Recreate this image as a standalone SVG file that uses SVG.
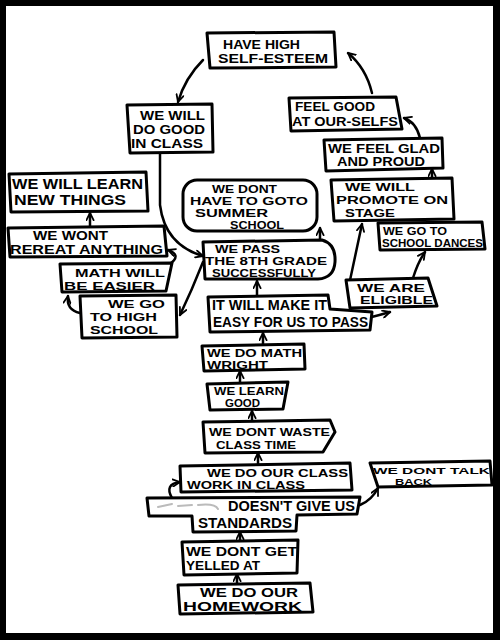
<svg xmlns="http://www.w3.org/2000/svg" width="500" height="640" viewBox="0 0 500 640">
<style>
.b{fill:#fff;stroke:#000;stroke-width:3;stroke-linejoin:round}
.t{font-family:"Liberation Sans",Arial,sans-serif;font-weight:bold;fill:#000}
.f14{font-size:14px}.f13{font-size:13px}.f12{font-size:12px}.f11{font-size:11.5px}.f10{font-size:10.5px}.f9{font-size:9.5px}
.c{fill:none;stroke:#000;stroke-width:2.5;stroke-linecap:round;marker-end:url(#ah)}
</style>
<defs>
<marker id="ah" viewBox="0 0 10 10" refX="9" refY="5" markerWidth="9" markerHeight="9" markerUnits="userSpaceOnUse" orient="auto">
<path d="M1,1 L9,5 L1,9" fill="none" stroke="#000" stroke-width="2" stroke-linecap="round" stroke-linejoin="round"/>
</marker>
</defs>
<rect x="0" y="0" width="500" height="640" fill="#000"/>
<rect x="6" y="6" width="487" height="627" fill="#fff"/>

<g id="connectors">
<path class="c" d="M203,60 Q185,78 178,102"/>
<path class="c" d="M372,93 Q366,68 348,53"/>
<path class="c" d="M420,138 Q416,122 404,118"/>
<path class="c" d="M432,180 L432,169"/>
<path class="c" d="M349,285 L362,224"/>
<path class="c" d="M413,278 Q418,262 425,252"/>
<path class="c" d="M345,323 Q370,318 390,312"/>
<path class="c" d="M257,296 L257,281"/>
<path class="c" d="M320,242 L320,228"/>
<path class="c" d="M203,262 Q192,290 180,315"/>
<path class="c" d="M160,154 L160,205 Q165,245 203,256"/>
<path class="c" d="M80,313 Q66,310 68,296"/>
<path class="c" d="M170,264 Q182,255 168,250"/>
<path class="c" d="M90,226 L90,213"/>
<path class="c" d="M263,344 L263,333"/>
<path class="c" d="M240,382 L240,371"/>
<path class="c" d="M252,421 L252,411"/>
<path class="c" d="M258,464 L258,453"/>
<path class="c" d="M172,498 Q164,484 180,482"/>
<path class="c" d="M360,505 Q372,500 378,488"/>
<path class="c" d="M240,541 L240,532"/>
<path class="c" d="M237,584 L237,574"/>
</g>

<g id="n-selfesteem">
<path class="b" d="M207,33 L334,32 L336,67 L210,68 Z"/>
<text class="t f12" x="223" y="49" textLength="77" lengthAdjust="spacingAndGlyphs">HAVE HIGH</text>
<text class="t f12" x="218" y="63" textLength="110" lengthAdjust="spacingAndGlyphs">SELF-ESTEEM</text>
</g>
<g id="n-dogood">
<path class="b" d="M127,105 L212,104 L213,152 L130,153 Z"/>
<text class="t f12" x="140" y="120" textLength="65" lengthAdjust="spacingAndGlyphs">WE WILL</text>
<text class="t f12" x="133" y="134" textLength="72" lengthAdjust="spacingAndGlyphs">DO GOOD</text>
<text class="t f12" x="131" y="148" textLength="72" lengthAdjust="spacingAndGlyphs">IN CLASS</text>
</g>
<g id="n-feelgood">
<path class="b" d="M289,98 L396,97 L402,129 L291,131 Z"/>
<text class="t f13" x="295" y="111" textLength="80" lengthAdjust="spacingAndGlyphs">FEEL GOOD</text>
<text class="t f13" x="292" y="126" textLength="106" lengthAdjust="spacingAndGlyphs">AT OUR-SELFS</text>
</g>
<g id="n-glad">
<path class="b" d="M324,140 L442,138 L443,168 L326,171 Z"/>
<text class="t f12" x="328" y="153" textLength="112" lengthAdjust="spacingAndGlyphs">WE FEEL GLAD</text>
<text class="t f12" x="337" y="166" textLength="88" lengthAdjust="spacingAndGlyphs">AND PROUD</text>
</g>
<g id="n-promote">
<path class="b" d="M331,180 L452,178 L454,219 L334,221 Z"/>
<text class="t f11" x="345" y="191" textLength="70" lengthAdjust="spacingAndGlyphs">WE WILL</text>
<text class="t f11" x="336" y="204" textLength="112" lengthAdjust="spacingAndGlyphs">PROMOTE ON</text>
<text class="t f11" x="345" y="217" textLength="50" lengthAdjust="spacingAndGlyphs">STAGE</text>
</g>
<g id="n-dances">
<path class="b" d="M378,223 L482,222 L485,249 L380,250 Z"/>
<text class="t f10" x="383" y="235" textLength="64" lengthAdjust="spacingAndGlyphs">WE GO TO</text>
<text class="t f10" x="382" y="247" textLength="101" lengthAdjust="spacingAndGlyphs">SCHOOL DANCES</text>
</g>
<g id="n-learnnew">
<path class="b" d="M9,174 L146,172 L148,211 L11,212 Z"/>
<text class="t f14" x="12" y="189" textLength="131" lengthAdjust="spacingAndGlyphs">WE WILL LEARN</text>
<text class="t f14" x="14" y="205" textLength="112" lengthAdjust="spacingAndGlyphs">NEW THINGS</text>
</g>
<g id="n-summer">
<rect class="b" x="183" y="180" width="134" height="51" rx="14"/>
<text class="t f10" x="212" y="193" textLength="65" lengthAdjust="spacingAndGlyphs">WE DONT</text>
<text class="t f10" x="190" y="205" textLength="118" lengthAdjust="spacingAndGlyphs">HAVE TO GOTO</text>
<text class="t f10" x="195" y="217" textLength="73" lengthAdjust="spacingAndGlyphs">SUMMER</text>
<text class="t f10" x="230" y="229" textLength="54" lengthAdjust="spacingAndGlyphs">SCHOOL</text>
</g>
<g id="n-repeat">
<path class="b" d="M8,228 L164,226 L167,256 L10,257 Z"/>
<text class="t f12" x="33" y="240" textLength="75" lengthAdjust="spacingAndGlyphs">WE WONT</text>
<text class="t f12" x="10" y="254" textLength="153" lengthAdjust="spacingAndGlyphs">REREAT ANYTHING</text>
</g>
<g id="n-pass">
<path class="b" d="M203,242 L322,240 Q336,244 335,262 Q334,278 318,279 L205,279 Z"/>
<text class="t f10" x="215" y="253" textLength="65" lengthAdjust="spacingAndGlyphs">WE PASS</text>
<text class="t f10" x="205" y="265" textLength="122" lengthAdjust="spacingAndGlyphs">THE 8TH GRADE</text>
<text class="t f10" x="212" y="277" textLength="104" lengthAdjust="spacingAndGlyphs">SUCCESSFULLY</text>
</g>
<g id="n-matheasier">
<path class="b" d="M60,264 L172,263 L166,291 L62,292 Z"/>
<text class="t f11" x="75" y="277" textLength="90" lengthAdjust="spacingAndGlyphs">MATH WILL</text>
<text class="t f11" x="64" y="290" textLength="91" lengthAdjust="spacingAndGlyphs">BE EASIER</text>
</g>
<g id="n-highschool">
<path class="b" d="M80,296 L176,295 L177,337 L82,338 Z"/>
<text class="t f11" x="108" y="308" textLength="57" lengthAdjust="spacingAndGlyphs">WE GO</text>
<text class="t f11" x="90" y="321" textLength="67" lengthAdjust="spacingAndGlyphs">TO HIGH</text>
<text class="t f11" x="90" y="334" textLength="68" lengthAdjust="spacingAndGlyphs">SCHOOL</text>
</g>
<g id="n-easy">
<path class="b" d="M208,297 L328,295 L330,309 L372,312 L370,330 L210,332 Z"/>
<text class="t f14" x="212" y="310" textLength="115" lengthAdjust="spacingAndGlyphs">IT WILL MAKE IT</text>
<text class="t f14" x="213" y="327" textLength="155" lengthAdjust="spacingAndGlyphs">EASY FOR US TO PASS</text>
</g>
<g id="n-eligible">
<path class="b" d="M346,280 L428,278 L437,306 L350,308 Z"/>
<text class="t f10" x="357" y="292" textLength="68" lengthAdjust="spacingAndGlyphs">WE ARE</text>
<text class="t f10" x="360" y="304" textLength="73" lengthAdjust="spacingAndGlyphs">ELIGIBLE</text>
</g>
<g id="n-mathwright">
<path class="b" d="M202,346 L304,344 L305,369 L204,371 Z"/>
<text class="t f10" x="207" y="357" textLength="95" lengthAdjust="spacingAndGlyphs">WE DO MATH</text>
<text class="t f10" x="207" y="369" textLength="61" lengthAdjust="spacingAndGlyphs">WRIGHT</text>
</g>
<g id="n-learngood">
<path class="b" d="M207,384 L288,382 L283,409 L210,410 Z"/>
<text class="t f10" x="214" y="395" textLength="70" lengthAdjust="spacingAndGlyphs">WE LEARN</text>
<text class="t f10" x="225" y="407" textLength="35" lengthAdjust="spacingAndGlyphs">GOOD</text>
</g>
<g id="n-waste">
<path class="b" d="M203,422 L330,420 L335,432 L323,452 L205,453 Z"/>
<text class="t f11" x="209" y="436" textLength="121" lengthAdjust="spacingAndGlyphs">WE DONT WASTE</text>
<text class="t f11" x="216" y="449" textLength="80" lengthAdjust="spacingAndGlyphs">CLASS TIME</text>
</g>
<g id="n-classwork">
<path class="b" d="M180,466 L350,463 L352,490 L181,492 Z"/>
<text class="t f10" x="207" y="477" textLength="141" lengthAdjust="spacingAndGlyphs">WE DO OUR CLASS</text>
<text class="t f10" x="187" y="489" textLength="118" lengthAdjust="spacingAndGlyphs">WORK IN CLASS</text>
</g>
<g id="n-talkback">
<path class="b" d="M370,463 L490,461 L492,485 L378,487 Z"/>
<text class="t f9" x="373" y="474" textLength="117" lengthAdjust="spacingAndGlyphs">WE DONT TALK</text>
<text class="t f9" x="395" y="485" textLength="37" lengthAdjust="spacingAndGlyphs">BACK</text>
</g>
<g id="n-standards">
<path class="b" d="M147,498 L360,497 L357,514 L297,515 L296,531 L193,532 L192,516 L149,516 Z"/>
<path d="M158,507 L172,504 M178,506 L192,505 M198,505 Q215,503 218,509" fill="none" stroke="#bbb" stroke-width="2" stroke-linecap="round"/>
<text class="t f14" x="228" y="511" textLength="127" lengthAdjust="spacingAndGlyphs">DOESN'T GIVE US</text>
<text class="t f14" x="198" y="528" textLength="94" lengthAdjust="spacingAndGlyphs">STANDARDS</text>
</g>
<g id="n-yelled">
<path class="b" d="M182,542 L298,540 L297,573 L184,575 Z"/>
<text class="t f12" x="186" y="556" textLength="111" lengthAdjust="spacingAndGlyphs">WE DONT GET</text>
<text class="t f12" x="186" y="570" textLength="74" lengthAdjust="spacingAndGlyphs">YELLED AT</text>
</g>
<g id="n-homework">
<path class="b" d="M178,585 L310,583 L313,612 L180,614 Z"/>
<text class="t f12" x="200" y="597" textLength="98" lengthAdjust="spacingAndGlyphs">WE DO OUR</text>
<text class="t f12" x="183" y="611" textLength="119" lengthAdjust="spacingAndGlyphs">HOMEWORK</text>
</g>
</svg>
